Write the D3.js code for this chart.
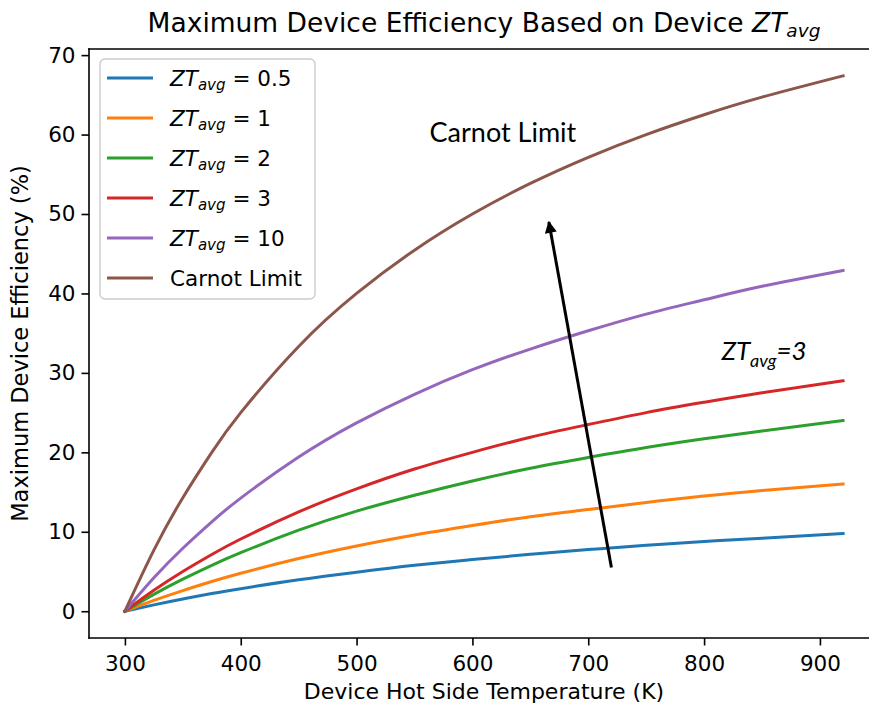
<!DOCTYPE html>
<html>
<head>
<meta charset="utf-8">
<script src="https://cdn.jsdelivr.net/npm/d3@7"></script>
<style>
  html, body { margin: 0; padding: 0; background: #fff; overflow: hidden; }
  svg { display: block; }
  text { font-family: "DejaVu Sans", sans-serif; fill: #000; }
</style>
</head>
<body>
<svg id="chart" width="869" height="708"></svg>
<script>
// Hot-side temperatures (K)
const temps = [300, 325, 350, 375, 400, 450, 500, 550, 600, 650, 700, 750, 800, 850, 920];

// Maximum efficiency (%) for each ZT_avg, plus the Carnot limit
const zt05 = [0, 0.8, 1.54, 2.22, 2.84, 3.96, 4.92, 5.78, 6.5, 7.17, 7.76, 8.3, 8.78, 9.2, 9.77];
const zt1 = [0, 1.36, 2.6, 3.74, 4.78, 6.63, 8.22, 9.6, 10.8, 11.9, 12.8, 13.7, 14.5, 15.2, 16.0];
const zt2 = [0, 2.12, 4.04, 5.78, 7.37, 10.2, 12.6, 14.6, 16.4, 18.0, 19.35, 20.6, 21.7, 22.7, 24.0];
const zt3 = [0, 2.63, 5.0, 7.14, 9.09, 12.5, 15.4, 17.9, 20.0, 21.9, 23.5, 25.0, 26.3, 27.5, 29.0];
const zt10 = [0, 4.2, 7.93, 11.26, 14.24, 19.4, 23.7, 27.3, 30.4, 33.0, 35.3, 37.4, 39.2, 40.9, 42.9];
const carnot = [0, 7.69, 14.29, 20.0, 25.0, 33.33, 40.0, 45.45, 50.0, 53.85, 57.14, 60.0, 62.5, 64.71, 67.39];

const seriesNames = ["0.5", "1", "2", "3", "10", "Carnot Limit"];
const seriesValues = [zt05, zt1, zt2, zt3, zt10, carnot];
const colors = ["#1f77b4", "#ff7f0e", "#2ca02c", "#d62728", "#9467bd", "#8c564b"];

const xTicks = [300, 400, 500, 600, 700, 800, 900];
const yTicks = [0, 10, 20, 30, 40, 50, 60, 70];

const svg = d3.select("#chart");

const x = d3.scaleLinear().domain([269, 951]).range([89, 879]);
const y = d3.scaleLinear().domain([-3.37, 70.77]).range([638, 49]);

// Curves
const line = d3.line()
  .x((d, i) => x(temps[i]))
  .y(d => y(d))
  .curve(d3.curveNatural);

svg.append("g")
  .selectAll("path")
  .data(seriesValues)
  .join("path")
  .attr("d", line)
  .attr("fill", "none")
  .attr("stroke", (d, i) => colors[i])
  .attr("stroke-width", 3)
  .attr("stroke-linecap", "square");

// Axes
const tickFont = "21.5px";
const xAxis = svg.append("g")
  .attr("transform", `translate(0,${y.range()[0]})`)
  .call(d3.axisBottom(x).tickValues(xTicks).tickSize(7.5).tickPadding(6).tickSizeOuter(0));
const yAxis = svg.append("g")
  .attr("transform", `translate(${x.range()[0]},0)`)
  .call(d3.axisLeft(y).tickValues(yTicks).tickSize(7.5).tickPadding(6).tickSizeOuter(0));

[xAxis, yAxis].forEach(g => {
  g.select(".domain").remove();
  g.selectAll(".tick line").attr("stroke", "#000").attr("stroke-width", 1.6);
  g.selectAll(".tick text")
    .style("font-family", "'DejaVu Sans', sans-serif")
    .style("font-size", tickFont)
    .attr("fill", "#000");
});
xAxis.selectAll(".tick text").attr("dy", "0.9em");

// Plot frame: left, bottom and top spines (right spine lies beyond the page edge)
const [x0, x1] = x.range();
const [yb, yt] = y.range();
const spines = [
  [x0, yb, x0, yt],
  [x0, yb, x1, yb],
  [x0, yt, x1, yt]
];
svg.append("g")
  .selectAll("line")
  .data(spines)
  .join("line")
  .attr("x1", d => d[0]).attr("y1", d => d[1])
  .attr("x2", d => d[2]).attr("y2", d => d[3])
  .attr("stroke", "#000")
  .attr("stroke-width", 1.6)
  .attr("stroke-linecap", "square");

// ZT_avg label as italic Z T with italic subscript "avg"
function ztLabel(sel, size, suffix) {
  sel.append("tspan").attr("font-style", "italic").text("ZT");
  sel.append("tspan").attr("font-style", "italic")
    .attr("font-size", size * 0.7).attr("dy", size * 0.22).text("avg");
  sel.append("tspan").attr("dy", -size * 0.22).text(suffix);
}

// Title
const title = svg.append("text")
  .attr("x", (x0 + x1) / 2)
  .attr("y", 32)
  .attr("text-anchor", "middle")
  .style("font-size", "26.5px");
title.append("tspan").text("Maximum Device Efficiency Based on Device ");
title.append("tspan").attr("font-style", "italic").text("ZT");
title.append("tspan").attr("font-style", "italic").attr("font-size", 18.5).attr("dy", 5).text("avg");

// Axis labels
svg.append("text")
  .attr("x", (x0 + x1) / 2)
  .attr("y", 699)
  .attr("text-anchor", "middle")
  .style("font-size", "22px")
  .text("Device Hot Side Temperature (K)");

svg.append("text")
  .attr("transform", `translate(28,${(yb + yt) / 2}) rotate(-90)`)
  .attr("text-anchor", "middle")
  .style("font-size", "22.5px")
  .text("Maximum Device Efficiency (%)");

// Legend
const legend = svg.append("g").attr("transform", "translate(100,59)");
legend.append("rect")
  .attr("width", 215).attr("height", 240)
  .attr("rx", 5).attr("ry", 5)
  .attr("fill", "#fff").attr("fill-opacity", 0.8)
  .attr("stroke", "#cccccc").attr("stroke-width", 1.4);

const rows = legend.selectAll("g.row")
  .data(seriesNames)
  .join("g")
  .attr("class", "row")
  .attr("transform", (d, i) => `translate(0,${19 + i * 40})`);
rows.append("line")
  .attr("x1", 7).attr("x2", 53)
  .attr("stroke", (d, i) => colors[i])
  .attr("stroke-width", 3);
rows.append("text")
  .attr("x", 70).attr("y", 7.5)
  .style("font-size", "21.5px")
  .each(function (d) {
    const t = d3.select(this);
    if (d === "Carnot Limit") t.text(d);
    else ztLabel(t, 21.5, " = " + d);
  });

// Annotations
const annFont = "Lato, 'Open Sans', sans-serif";
svg.append("text")
  .attr("x", x(563)).attr("y", y(59.1))
  .style("font-family", annFont)
  .style("font-size", "27px")
  .text("Carnot Limit");

const ztAnn = svg.append("text")
  .attr("x", x(815)).attr("y", y(31.6))
  .style("font-family", annFont)
  .style("font-size", "26px")
  .attr("font-style", "italic");
ztAnn.append("tspan").text("ZT");
ztAnn.append("tspan").attr("font-size", 18).attr("dy", 7).text("avg");
ztAnn.append("tspan").attr("dy", -7).text("=3");

svg.append("defs").append("marker")
  .attr("id", "head")
  .attr("viewBox", "0 0 10 10")
  .attr("refX", 9).attr("refY", 5)
  .attr("markerWidth", 4.5).attr("markerHeight", 4)
  .attr("orient", "auto")
  .append("path").attr("d", "M0,0 L10,5 L0,10 Z").attr("fill", "#000");

svg.append("line")
  .attr("x1", x(720)).attr("y1", y(5.5))
  .attr("x2", x(666)).attr("y2", y(49))
  .attr("stroke", "#000")
  .attr("stroke-width", 3)
  .attr("marker-end", "url(#head)");
</script>
</body>
</html>
